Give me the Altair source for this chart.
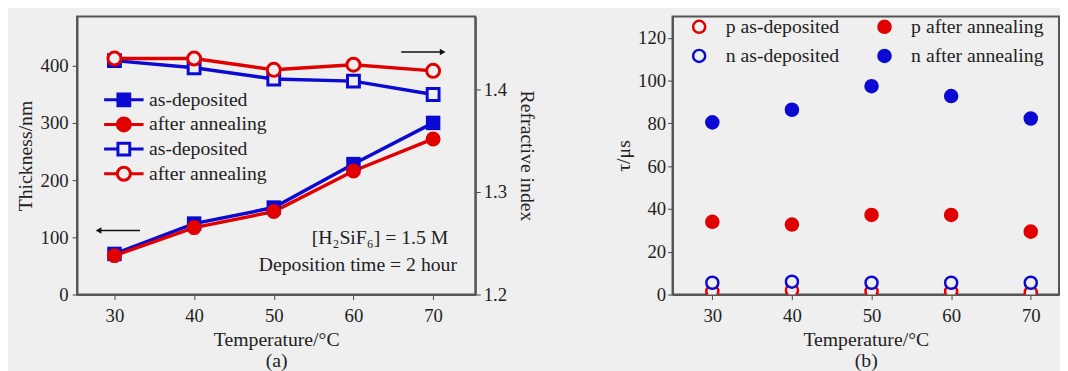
import altair as alt
import pandas as pd

# ---------------- data ----------------
temps = [30, 40, 50, 60, 70]

# panel (a): thickness (left axis) and refractive index (right axis)
thick_asdep = [71, 124, 152, 228, 300]
thick_ann = [68, 117, 145, 216, 272]
ri_asdep = [1.428, 1.421, 1.410, 1.408, 1.395]
ri_ann = [1.430, 1.430, 1.419, 1.424, 1.418]

# panel (b): lifetime tau / us
tau_p_asdep = [1.5, 2.0, 1.5, 1.5, 1.0]
tau_p_ann = [34.0, 32.7, 37.2, 37.2, 29.4]
tau_n_asdep = [5.5, 6.0, 5.5, 5.5, 5.5]
tau_n_ann = [80.5, 86.4, 97.4, 92.8, 82.3]

legA_keys = ["fa", "fb", "oa", "ob"]
legA_labels = ["as-deposited", "after annealing", "as-deposited", "after annealing"]
legB_labels = ["p as-deposited", "n as-deposited", "p after annealing", "n after annealing"]

note_text = ["[H\u2082SiF\u2086] = 1.5 M", "Deposition time = 2 hour"]
note_x = [71.9, 73.0]
note_y = [98, 52]

arrow_x1 = [28.0, 66.0]
arrow_x2 = [33.2, 71.2]
arrow_y = [112, 424]
arrow_tip = [28.0, 71.2]
arrow_dir = ["left", "right"]

# ---------------- style ----------------
BLUE = "#0a0ad2"
RED = "#e00000"
BG = "#efefef"
FONT = "Liberation Serif"
TXT = "#222222"

XA_DOM = [25.3, 75.3]
XB_DOM = [25.0, 73.55]
Y_THICK = [0, 486]
Y_RI = [1.2, 1.471]
Y_TAU = [0, 130]

W_A, W_B, H = 404, 392, 282

# ---------------- panel (a) ----------------
def df_xy(ys, col):
    return pd.DataFrame({"T": temps, col: ys})

xA = alt.X("T:Q", scale=alt.Scale(domain=XA_DOM, nice=False, zero=False),
           axis=alt.Axis(values=temps, format="d", title=["Temperature/\u00b0C", "(a)"],
                         titleLineHeight=21, labelPadding=7))
yL = alt.Y("thick:Q", scale=alt.Scale(domain=Y_THICK, nice=False),
           axis=alt.Axis(values=[0, 100, 200, 300, 400], title="Thickness/nm", orient="left"))
yR = alt.Y("ri:Q", scale=alt.Scale(domain=Y_RI, nice=False, zero=False),
           axis=alt.Axis(values=[1.2, 1.3, 1.4], format=".1f", title="Refractive index",
                         orient="right", titlePadding=10, labelPadding=3))

def line_pts(df, y, color, shape, filled, size):
    base = alt.Chart(df).encode(x=xA, y=y)
    ln = base.mark_line(color=color, strokeWidth=3.5)
    if filled:
        pt = base.mark_point(shape=shape, filled=True, color=color, size=size, opacity=1)
    else:
        pt = base.mark_point(shape=shape, filled=False, fill=BG, stroke=color,
                             strokeWidth=3, size=size, opacity=1, fillOpacity=1)
    return ln, pt

l1, p1 = line_pts(df_xy(thick_asdep, "thick"), yL, BLUE, "square", True, 215)
l2, p2 = line_pts(df_xy(thick_ann, "thick"), yL, RED, "circle", True, 230)
l3, p3 = line_pts(df_xy(ri_asdep, "ri"), yR, BLUE, "square", False, 145)
l4, p4 = line_pts(df_xy(ri_ann, "ri"), yR, RED, "circle", False, 175)

# arrows
arr_df = pd.DataFrame({"x1": arrow_x1, "x2": arrow_x2, "thick": arrow_y,
                       "tip": arrow_tip, "dir": arrow_dir})
xArr = alt.X("x1:Q", scale=alt.Scale(domain=XA_DOM, nice=False, zero=False))
xTip = alt.X("tip:Q", scale=alt.Scale(domain=XA_DOM, nice=False, zero=False))
arr_rule = alt.Chart(arr_df).mark_rule(color="#111111", strokeWidth=1.5).encode(
    x=xArr, x2="x2:Q", y=yL)
arr_head_l = alt.Chart(arr_df).transform_filter("datum.dir == 'left'").mark_point(
    shape="triangle-left", filled=True, color="#111111", size=45, opacity=1).encode(x=xTip, y=yL)
arr_head_r = alt.Chart(arr_df).transform_filter("datum.dir == 'right'").mark_point(
    shape="triangle-right", filled=True, color="#111111", size=45, opacity=1).encode(x=xTip, y=yL)

# notes
note_df = pd.DataFrame({"T": note_x, "thick": note_y, "txt": note_text})
notes = alt.Chart(note_df).mark_text(align="right", baseline="middle", font=FONT,
                                     fontSize=20, color=TXT).encode(
    x=xA, y=yL, text="txt:N")

# legend carrier (invisible marks; only its legend is seen)
LINE = "M-1,0L-0.32,0M0.32,0L1,0"
SQ = "M-0.3,-0.3L0.3,-0.3L0.3,0.3L-0.3,0.3Z"
CI = "M0.33,0A0.33,0.33,0,1,1,-0.33,0A0.33,0.33,0,1,1,0.33,0Z"
lab_expr = ("datum.label == 'fa' ? '%s' : datum.label == 'fb' ? '%s' : "
            "datum.label == 'oa' ? '%s' : '%s'") % tuple(legA_labels)
legA = alt.Legend(orient="none", legendX=26, legendY=72, title=None,
                  labelFont=FONT, labelFontSize=20, labelColor=TXT, labelExpr=lab_expr,
                  symbolSize=1600, symbolStrokeWidth=3, rowPadding=0, labelOffset=4,
                  clipHeight=25, symbolOpacity=1)
leg_df = pd.DataFrame({"T": [temps[0]] * 4, "thick": [thick_ann[0]] * 4, "s": legA_keys})
legend_a = alt.Chart(leg_df).mark_point(opacity=0, size=1).encode(
    x=xA, y=yL,
    stroke=alt.Stroke("s:N", scale=alt.Scale(domain=legA_keys, range=[BLUE, RED, BLUE, RED]),
                      legend=legA),
    fill=alt.Fill("s:N", scale=alt.Scale(domain=legA_keys, range=[BLUE, RED, BG, BG]),
                  legend=legA),
    shape=alt.Shape("s:N", scale=alt.Scale(domain=legA_keys,
                                           range=[LINE + SQ, LINE + CI, LINE + SQ, LINE + CI]),
                    legend=legA),
)

left = alt.layer(l1, l2, p1, p2, arr_rule, arr_head_l, arr_head_r, notes, legend_a)
right = alt.layer(l3, l4, p3, p4)
panel_a = alt.layer(left, right).resolve_scale(y="independent").properties(width=W_A, height=H)

# ---------------- panel (b) ----------------
dfB = pd.DataFrame({
    "T": temps * 4,
    "tau": tau_p_asdep + tau_p_ann + tau_n_asdep + tau_n_ann,
    "s": [legB_labels[0]] * 5 + [legB_labels[2]] * 5 + [legB_labels[1]] * 5 + [legB_labels[3]] * 5,
})
legB = alt.Legend(orient="none", legendX=17, legendY=0, title=None, columns=2,
                  labelFont=FONT, labelFontSize=20, labelColor=TXT,
                  symbolSize=150, symbolStrokeWidth=2.5, symbolType="circle",
                  rowPadding=6, columnPadding=34, labelOffset=17, symbolOpacity=1)
panel_b = alt.Chart(dfB).mark_point(shape="circle", size=150, strokeWidth=2.5,
                                    opacity=1, clip=True).encode(
    x=alt.X("T:Q", scale=alt.Scale(domain=XB_DOM, nice=False, zero=False),
            axis=alt.Axis(values=temps, format="d", title=["Temperature/\u00b0C", "(b)"],
                          titleLineHeight=21, labelPadding=7)),
    y=alt.Y("tau:Q", scale=alt.Scale(domain=Y_TAU, nice=False),
            axis=alt.Axis(values=[0, 20, 40, 60, 80, 100, 120], title="\u03c4/\u03bcs",
                          titlePadding=4, labelPadding=2)),
    stroke=alt.Stroke("s:N", scale=alt.Scale(domain=legB_labels, range=[RED, BLUE, RED, BLUE]),
                      legend=legB),
    fill=alt.Fill("s:N", scale=alt.Scale(domain=legB_labels, range=[BG, BG, RED, BLUE]),
                  legend=legB),
).properties(width=W_B, height=H)

chart = alt.hconcat(panel_a, panel_b, spacing=76).resolve_scale(
    stroke="independent", fill="independent", shape="independent"
).resolve_legend(
    stroke="independent", fill="independent", shape="independent"
).properties(
    background=BG,
    padding={"left": 6, "top": 5, "right": 0, "bottom": 0},
).configure(
    font=FONT,
).configure_view(
    stroke="#555555", strokeWidth=2, fill=BG
).configure_axis(
    labelFont=FONT, labelFontSize=19, labelColor=TXT,
    titleFont=FONT, titleFontSize=20, titleFontWeight="normal", titleColor=TXT,
    domainColor="#555555", domainWidth=2, tickColor="#444444", tickSize=5,
    grid=False, labelPadding=4, titlePadding=5,
).configure_legend(
    labelFont=FONT, labelFontSize=20, labelColor=TXT,
)

chart.save("out.html", embed_options={"renderer": "svg", "actions": False})
